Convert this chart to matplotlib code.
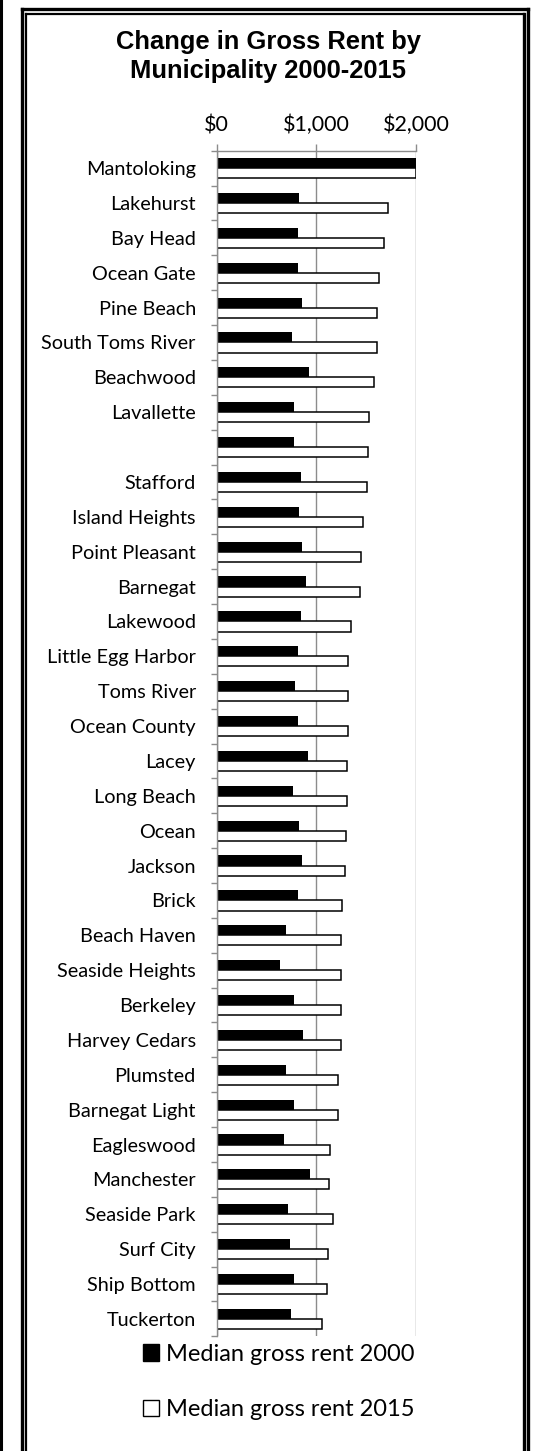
import matplotlib.pyplot as plt
from matplotlib.lines import Line2D
from matplotlib.patches import Patch
from matplotlib.ticker import FuncFormatter
import numpy as np

municipalities = ["Mantoloking", "Lakehurst", "Bay Head", "Ocean Gate", "Pine Beach",
                  "South Toms River", "Beachwood", "Lavallette", "", "Stafford",
                  "Island Heights", "Point Pleasant", "Barnegat", "Lakewood",
                  "Little Egg Harbor", "Toms River", "Ocean County", "Lacey",
                  "Long Beach", "Ocean", "Jackson", "Brick", "Beach Haven",
                  "Seaside Heights", "Berkeley", "Harvey Cedars", "Plumsted",
                  "Barnegat Light", "Eagleswood", "Manchester", "Seaside Park",
                  "Surf City", "Ship Bottom", "Tuckerton"]
rent_2000 = [2001, 829, 813, 813, 853, 753, 927, 779, 776, 846, 826, 860, 897,
             850, 816, 789, 816, 913, 766, 830, 860, 820, 693, 632, 773, 870,
             693, 773, 679, 937, 716, 739, 779, 743]
rent_2015 = [2001, 1715, 1675, 1628, 1608, 1605, 1575, 1528, 1514, 1504, 1471,
             1444, 1434, 1347, 1317, 1317, 1314, 1304, 1307, 1294, 1287, 1257,
             1250, 1250, 1250, 1243, 1217, 1217, 1133, 1130, 1167, 1116, 1106,
             1056]
x_ticks = [0, 1000, 2000]

FONT = "Lato"
GRAY = "#8c8c8c"


def main():
    fig = plt.figure(figsize=(5.36, 14.51), dpi=100)
    ax = fig.add_axes([216.7 / 536, 1 - 1336.3 / 1451, 199.3 / 536, 1185.6 / 1451])

    y = np.arange(len(municipalities))
    h = 0.29
    ax.barh(y - h / 2, rent_2000, height=h, color="black", label="Median gross rent 2000")
    ax.barh(y + h / 2, rent_2015, height=h, color="white", edgecolor="black",
            linewidth=1.1, label="Median gross rent 2015")

    ax.set_xlim(0, 2000)
    ax.set_ylim(len(municipalities) - 0.5, -0.5)
    ax.xaxis.tick_top()
    ax.set_xticks(x_ticks)
    ax.xaxis.set_major_formatter(FuncFormatter(lambda v, p: "${:,.0f}".format(v)))
    ax.tick_params(axis="x", length=5, color=GRAY, width=1, pad=6, labelsize=15.5)
    ax.grid(axis="x", color=GRAY, linewidth=1)
    ax.set_axisbelow(True)

    ax.set_yticks(y)
    ax.set_yticklabels(municipalities)
    ax.set_yticks(np.arange(len(municipalities) + 1) - 0.5, minor=True)
    ax.tick_params(axis="y", which="major", length=0, pad=15, labelsize=14.3)
    ax.tick_params(axis="y", which="minor", length=4.5, color=GRAY, width=1)
    for lab in ax.get_xticklabels() + ax.get_yticklabels():
        lab.set_fontfamily(FONT)

    for s in ["right", "bottom"]:
        ax.spines[s].set_visible(False)
    for s in ["left", "top"]:
        ax.spines[s].set_color(GRAY)
        ax.spines[s].set_linewidth(1)

    fig.text(0.5, 1 - 30 / 1451, "Change in Gross Rent by\nMunicipality 2000-2015",
             ha="center", va="top", fontsize=18.4, fontweight="bold",
             family="Liberation Sans", linespacing=1.25)

    handles = [Patch(facecolor="black", edgecolor="black", label="Median gross rent 2000"),
               Patch(facecolor="white", edgecolor="black", label="Median gross rent 2015")]
    fig.legend(handles=handles, loc="center", bbox_to_anchor=(0.52, 69 / 1451),
               frameon=False, prop={"family": FONT, "size": 17},
               handlelength=0.68, handleheight=0.68, handletextpad=0.3,
               labelspacing=1.45, borderpad=0)

    # page border lines
    fig.add_artist(Line2D([1 / 536, 1 / 536], [0, 1], color="black", lw=2.2,
                          transform=fig.transFigure))
    for x, lw in [(21.5, 2.4), (26, 1.6), (523.5, 2.4), (527.5, 2.4)]:
        fig.add_artist(Line2D([x / 536, x / 536], [0, 1 - (8.5 if x in (21.5, 527.5) else 13.5) / 1451],
                              color="black", lw=lw, transform=fig.transFigure))
    fig.add_artist(Line2D([21.5 / 536, 527.5 / 536], [1 - 8.5 / 1451] * 2, color="black",
                          lw=2.4, transform=fig.transFigure))
    fig.add_artist(Line2D([26 / 536, 523.5 / 536], [1 - 13.5 / 1451] * 2, color="black",
                          lw=1.6, transform=fig.transFigure))

    fig.savefig("out.png", dpi=100)


if __name__ == "__main__":
    main()
